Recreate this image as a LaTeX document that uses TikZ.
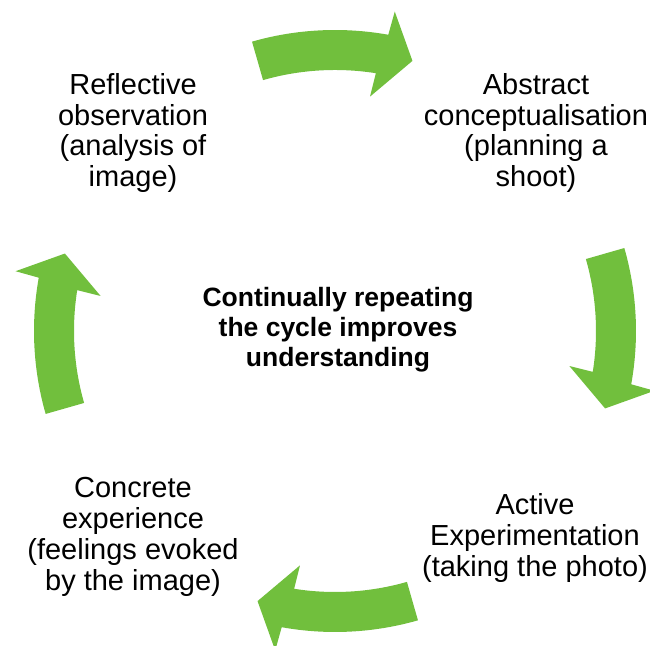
\documentclass[tikz,border=0pt]{standalone}
\usepackage{fontspec}
\setmainfont{Liberation Sans}
\definecolor{cyclegreen}{RGB}{113,191,61}
\begin{document}
\begin{tikzpicture}[lbl/.style={align=center,font=\fontsize{14.5}{15.4}\selectfont},
    mid/.style={align=center,font=\fontsize{13.25}{15}\selectfont\bfseries}]
        \useasboundingbox (-167.5pt,-157.5pt) rectangle (157.5pt,165.5pt);
        \foreach \r in {0,-90,-180,90}
          \fill[cyclegreen,rotate=\r] (106:130.5pt) arc[start angle=106,end angle=81,radius=130.5pt] -- (81.5:118.5pt) -- (74:140.5pt) -- (79.4:162.5pt) -- (79.8:150.5pt) arc[start angle=79.8,end angle=106,radius=150.5pt] -- cycle;
        \node[lbl] (refl) at (-101pt,99pt) {Reflective\\observation\\(analysis of\\image)};
        \node[lbl] (abst) at (100.5pt,99pt) {Abstract\\conceptualisation\\(planning a\\shoot)};
        \node[mid] (cont) at (1.5pt,0.5pt) {Continually repeating\\the cycle improves\\understanding};
        \node[lbl] (conc) at (-101pt,-103pt) {Concrete\\experience\\(feelings evoked\\by the image)};
        \node[lbl] (acti) at (100pt,-103.5pt) {Active\\Experimentation\\(taking the photo)};
      \end{tikzpicture}
\end{document}
